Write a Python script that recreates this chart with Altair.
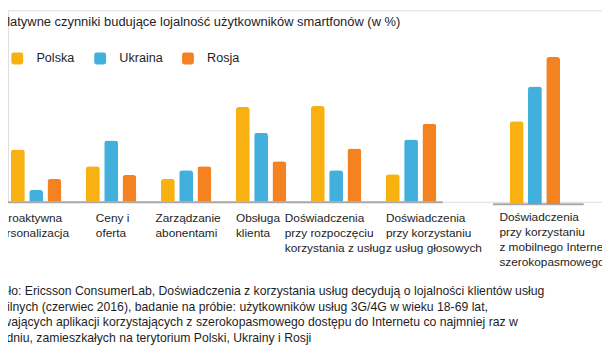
import altair as alt
import pandas as pd

FONT = "Liberation Sans"
TEXT_COLOR = "#1e1e1e"

countries = ["Polska", "Ukraina", "Rosja"]
colors = ["#F9B112", "#41B0DD", "#F58220"]

left_groups = [
    ["Proaktywna", "personalizacja"],
    ["Ceny i", "oferta"],
    ["Zarządzanie", "abonentami"],
    ["Obsługa", "klienta"],
    ["Doświadczenia", "przy rozpoczęciu", "korzystania z usług"],
    ["Doświadczenia", "przy korzystaniu", "z usług głosowych"],
]
right_group = ["Doświadczenia", "przy korzystaniu", "z mobilnego Internetu", "szerokopasmowego"]

# relative values
polska_left = [53, 36, 23, 96, 97, 28]
ukraina_left = [12, 62, 32, 70, 32, 63]
rosja_left = [23, 27, 36, 41, 54, 79]
right_values = [84, 119, 149]  # Polska, Ukraina, Rosja

title_text = "Relatywne czynniki budujące lojalność użytkowników smartfonów (w %)"
source_lines = [
    "Źródło: Ericsson ConsumerLab, Doświadczenia z korzystania usług decydują o lojalności klientów usług",
    "mobilnych (czerwiec 2016), badanie na próbie: użytkowników usług 3G/4G w wieku 18-69 lat,",
    "używających aplikacji korzystających z szerokopasmowego dostępu do Internetu co najmniej raz w",
    "tygodniu, zamieszkałych na terytorium Polski, Ukrainy i Rosji",
]

left_labels = ["\n".join(g) for g in left_groups]
rows = []
for i, lab in enumerate(left_labels):
    for c, vals in zip(countries, [polska_left, ukraina_left, rosja_left]):
        rows.append({"group": lab, "country": c, "value": vals[i]})
left_df = pd.DataFrame(rows)

right_label = "\n".join(right_group)
right_df = pd.DataFrame({"group": [right_label] * 3, "country": countries, "value": right_values})

# per-label placement of the category captions
label_keys = ["Proaktywna", "Ceny", "Zarządzanie", "Obsługa", "rozpoczęciu", "głosowych"]
label_shift = [-5, -15.5, -31, -25.5, -52, -25.5]
label_offset = {
    "condition": [
        {"test": f"indexof(datum.value, '{k}') >= 0", "value": s}
        for k, s in zip(label_keys, label_shift)
    ],
    "value": 0,
}
label_align = {
    "condition": {"test": "indexof(datum.value, 'Proaktywna') >= 0", "value": "center"},
    "value": "left",
}

color = alt.Color(
    "country:N",
    sort=countries,
    scale=alt.Scale(domain=countries, range=colors),
    legend=alt.Legend(
        title=None,
        orient="none",
        direction="horizontal",
        legendX=3,
        legendY=42,
        symbolType="M-0.6,-1L0.6,-1Q1,-1 1,-0.6L1,0.6Q1,1 0.6,1L-0.6,1Q-1,1 -1,0.6L-1,-0.6Q-1,-1 -0.6,-1Z",
        symbolSize=144,
        symbolStrokeWidth=0,
        labelFontSize=12.8,
        labelFont=FONT,
        labelColor=TEXT_COLOR,
        labelOffset=13,
        columnPadding=19,
    ),
)

bar_style = dict(cornerRadiusTopLeft=3, cornerRadiusTopRight=3)

left = alt.Chart(left_df).mark_bar(**bar_style).encode(
    x=alt.X(
        "group:N",
        sort=left_labels,
        scale=alt.Scale(range=[-7, 440], paddingInner=0.329, paddingOuter=0.1055, align=0.625),
        axis=alt.Axis(
            title=None,
            orient="bottom",
            ticks=False,
            domainColor="#A8A8A8",
            domainWidth=2,
            labelExpr="split(datum.label, '\\n')",
            labelAngle=0,
            labelAlign=label_align,
            labelOffset=label_offset,
            labelBaseline="top",
            labelPadding=11,
            labelLineHeight=15,
            labelFontSize=12,
            labelFont=FONT,
            labelColor=TEXT_COLOR,
            labelOverlap=False,
            labelBound=False,
            labelLimit=0,
        ),
    ),
    xOffset=alt.XOffset("country:N", sort=countries, scale=alt.Scale(paddingInner=0.243, paddingOuter=0)),
    y=alt.Y("value:Q", scale=alt.Scale(domain=[0, 194]), axis=None),
    color=color,
)

right = alt.Chart(right_df).mark_bar(**bar_style).encode(
    x=alt.X(
        "group:N",
        scale=alt.Scale(range=[491, 583], paddingInner=0, paddingOuter=0.402, align=0.427),
        axis=alt.Axis(
            title=None,
            orient="bottom",
            offset=2,
            ticks=False,
            domainColor="#A8A8A8",
            domainWidth=2,
            labelExpr="split(datum.label, '\\n')",
            labelAngle=0,
            labelAlign="left",
            labelOffset=-36,
            labelBaseline="top",
            labelPadding=8,
            labelLineHeight=15.2,
            labelFontSize=12,
            labelFont=FONT,
            labelColor=TEXT_COLOR,
            labelOverlap=False,
            labelBound=False,
            labelLimit=0,
        ),
    ),
    xOffset=alt.XOffset("country:N", sort=countries, scale=alt.Scale(paddingInner=0.243, paddingOuter=0)),
    y=alt.Y("value:Q", scale=alt.Scale(domain=[0, 196.3], range=[196.3, 0]), axis=None),
    color=color,
)

title = alt.Chart(pd.DataFrame({"t": [title_text]})).mark_text(
    align="left", baseline="middle", fontSize=13.1, font=FONT, color=TEXT_COLOR
).encode(x=alt.value(-17.5), y=alt.value(12), text="t:N")

source = alt.Chart(pd.DataFrame({"t": [0]})).mark_text(
    align="left", baseline="top", fontSize=12.4, font=FONT, color=TEXT_COLOR,
    lineHeight=15.6, text=source_lines,
).encode(x=alt.value(-25), y=alt.value(279))

chart = alt.layer(left, right, title, source).resolve_scale(
    x="independent", y="independent", xOffset="independent"
).properties(
    width=602,
    height=194,
    autosize=alt.AutoSizeParams(type="none"),
    padding={"left": 0, "top": 0, "right": 0, "bottom": 158},
).configure_view(stroke=None).configure(background="white")

chart.save("out.html", embed_options={"renderer": "svg", "actions": False})
